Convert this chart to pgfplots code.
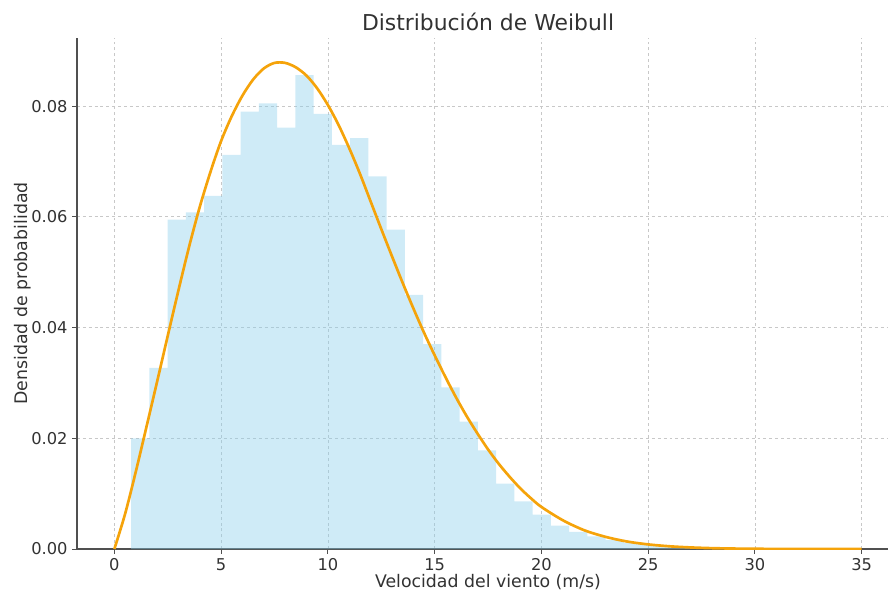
\documentclass[border=0pt]{standalone}
\usepackage{fontspec}
\setmainfont{DejaVu Sans}
\usepackage{pgfplots}
\pgfplotsset{compat=1.18}

\definecolor{barblue}{RGB}{135,206,235}
\definecolor{curveorange}{RGB}{245,163,10}
\definecolor{gridgray}{RGB}{200,200,200}
\definecolor{spinegray}{RGB}{80,80,80}
\definecolor{textgray}{RGB}{50,50,50}

\begin{document}
\begin{tikzpicture}
\begin{axis}[
  scale only axis,
  width=616.5pt, height=383.25pt,
  xmin=-1.75, xmax=36.75, ymin=0, ymax=0.0923,
  axis x line*=bottom, axis y line*=left,
  axis line style={spinegray, line width=0.9pt},
  tick align=outside,
  major tick length=3.6pt,
  tick style={spinegray, line width=0.75pt},
  xtick={0,5,...,35},
  ytick={0,0.02,0.04,0.06,0.08},
  scaled y ticks=false,
  yticklabel style={/pgf/number format/.cd, fixed, fixed zerofill, precision=2},
  /pgf/number format/assume math mode=true,
  ticklabel style={font=\fontsize{12.2}{14}\selectfont, text=textgray},
  grid=major,
  major grid style={gridgray, dash pattern=on 2.2pt off 2.2pt, line width=0.5pt},
  xlabel={Velocidad del viento (m/s)},
  ylabel={Densidad de probabilidad},
  title={Distribución de Weibull},
  label style={font=\fontsize{13}{15}\selectfont, text=textgray},
  xlabel style={at={(axis description cs:0.5,-0.0763)}, anchor=base},
  ylabel style={at={(axis description cs:-0.0608,0.5)}, anchor=base},
  title style={at={(axis description cs:0.5,0.9985)}, anchor=base, font=\fontsize{16.4}{19}\selectfont, text=textgray},
]
% histogram of the wind-speed sample (density), bins of width 0.855
\addplot[ybar interval, fill=barblue, fill opacity=0.4, draw=none] coordinates {
  (0.780,0.0200) (1.635,0.0327) (2.490,0.0595) (3.345,0.0608) (4.200,0.0638)
  (5.055,0.0712) (5.910,0.0790) (6.765,0.0805) (7.620,0.0761) (8.475,0.0856)
  (9.330,0.0786) (10.185,0.0730) (11.040,0.0742) (11.895,0.0673) (12.750,0.0577)
  (13.605,0.0459) (14.460,0.0370) (15.315,0.0292) (16.170,0.0230) (17.025,0.0178)
  (17.880,0.0118) (18.735,0.0086) (19.590,0.0062) (20.445,0.0042) (21.300,0.0031)
  (22.155,0.0023) (23.010,0.0016) (23.865,0.0011) (24.720,0.0007) (25.575,0.0004)
  (26.430,0.0003) (27.285,0.0001) (28.140,0.0001) (28.995,0.0000) (29.850,0.0001)
  (30.705,0.0000) (31.560,0.0000) (32.415,0.0000) (33.270,0.0000) (34.125,0.0001)
  (34.980,0.0001)
};
% fitted Weibull density
\addplot[curveorange, line width=2pt, smooth] coordinates {
  (0,0) (0.5,0.0063) (1,0.0139) (1.5,0.0220) (2,0.0302) (2.5,0.0385)
  (3,0.0467) (3.5,0.0546) (4,0.0618) (4.5,0.0681) (5,0.0737) (5.5,0.0782)
  (6,0.0819) (6.5,0.0848) (7,0.0868) (7.5,0.0878) (8,0.0878) (8.5,0.0870)
  (9,0.0855) (9.5,0.0832) (10,0.0802) (10.5,0.0766) (11,0.0724) (11.5,0.0678)
  (12,0.0628) (12.5,0.0578) (13,0.0529) (13.5,0.0481) (14,0.0435) (14.5,0.0391)
  (15,0.0350) (15.5,0.0311) (16,0.0274) (16.5,0.0240) (17,0.0209) (17.5,0.0180)
  (18,0.0154) (18.5,0.0131) (19,0.0110) (19.5,0.0092) (20,0.0076) (21,0.0052)
  (22,0.0034) (23,0.0022) (24,0.00136) (25,0.00083) (26,0.00049) (27,0.00028)
  (28,0.00015) (29,0.00008) (30,0.00004) (31,0.00002) (32,0.00001)
  (33,0.000005) (34,0.000002) (35,0.000001)
};
\coordinate (sw) at (axis description cs:0,0);
\end{axis}
\pgfresetboundingbox
\path ([xshift=-57.75pt,yshift=-32.25pt]sw) rectangle ([xshift=608.25pt,yshift=411.75pt]sw);
\end{tikzpicture}
\end{document}
